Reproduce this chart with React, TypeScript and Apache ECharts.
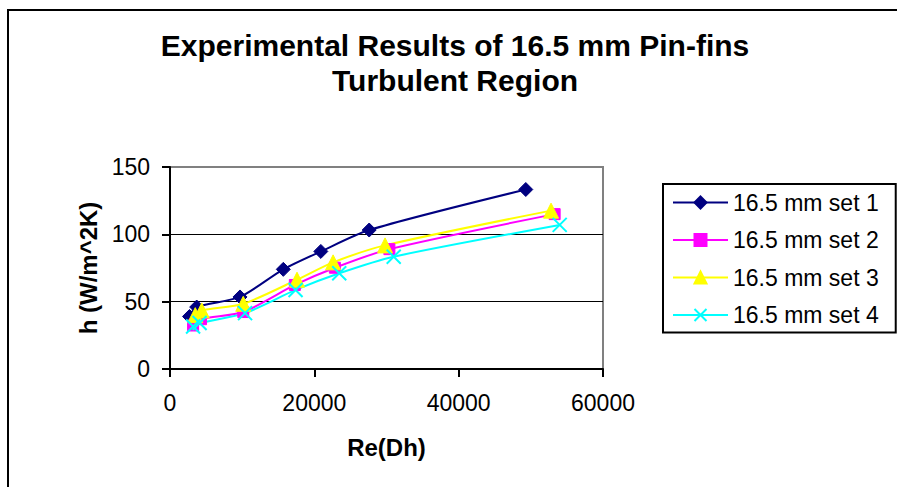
import React, { useEffect, useRef } from "react";
import * as echarts from "echarts";

const seriesNames = ["16.5 mm set 1", "16.5 mm set 2", "16.5 mm set 3", "16.5 mm set 4"];

const set1Re = [2700, 3700, 9700, 15700, 20900, 27600, 49300];
const set1H = [39, 46, 53.5, 74, 87.3, 103.2, 133.3];

const set2Re = [3200, 4300, 10150, 17300, 22850, 30400, 53300];
const set2H = [32.3, 37, 42.3, 62.4, 75.2, 89, 115];

const set3Re = [3500, 4400, 10150, 17600, 22600, 29800, 52800];
const set3H = [40, 43.5, 48.4, 66.3, 79.2, 91.8, 117.6];

const set4Re = [3200, 4100, 10400, 17400, 23450, 31000, 54000];
const set4H = [31.6, 34.1, 41.5, 58.7, 71.1, 83.4, 107];

const xTicks = { min: 0, max: 60000, interval: 20000 };
const yTicks = { min: 0, max: 150, interval: 50 };

const FONT = "'Liberation Sans', Arial, sans-serif";

const zip = (xs: number[], ys: number[]) => xs.map((x, i) => [x, ys[i]]);

export default function App() {
  const ref = useRef<HTMLDivElement>(null);
  useEffect(() => {
    if (!ref.current) return;
    const chart = echarts.init(ref.current, null, { renderer: "svg" });
    const lineSeries = (
      name: string,
      data: number[][],
      color: string,
      symbol: string,
      symbolSize: number,
      extra: any = {}
    ) => ({
      type: "line",
      name,
      data,
      smooth: 0.25,
      symbol,
      symbolSize,
      showAllSymbol: true,
      lineStyle: { color, width: 2 },
      itemStyle: { color, borderColor: color, borderWidth: 1, ...extra },
      emphasis: { disabled: true },
    });
    chart.setOption({
      animation: false,
      backgroundColor: "#ffffff",
      title: {
        text: "Experimental Results of 16.5 mm Pin-fins\nTurbulent Region",
        left: 455,
        top: 28,
        padding: 0,
        textAlign: "center",
        textStyle: {
          fontFamily: FONT,
          fontSize: 30,
          fontWeight: "bold",
          color: "#000",
          lineHeight: 35,
        },
      },
      graphic: [
        {
          type: "rect",
          shape: { x: 8, y: 10, width: 900, height: 490 },
          style: { fill: "none", stroke: "#000", lineWidth: 2 },
          silent: true,
        },
      ],
      legend: {
        orient: "vertical",
        left: 663,
        top: 184,
        padding: [6, 17, 5, 9],
        itemWidth: 55,
        itemHeight: 15,
        itemGap: 12.5,
        borderColor: "#000",
        borderWidth: 2,
        backgroundColor: "#fff",
        textStyle: { fontFamily: FONT, fontSize: 23, color: "#000", lineHeight: 25 },
        data: seriesNames,
      },
      grid: {
        left: 170,
        top: 167,
        right: 294,
        bottom: 118,
        show: true,
        borderColor: "#808080",
        borderWidth: 2,
        backgroundColor: "#fff",
      },
      xAxis: {
        type: "value",
        ...xTicks,
        name: "Re(Dh)",
        nameLocation: "middle",
        nameGap: 66,
        nameTextStyle: { fontFamily: FONT, fontSize: 24, fontWeight: "bold", color: "#000" },
        axisLine: { show: true, lineStyle: { color: "#000", width: 2 } },
        axisTick: { show: true, inside: false, length: 8, lineStyle: { color: "#000", width: 2 } },
        axisLabel: {
          fontFamily: FONT,
          fontSize: 23,
          color: "#000",
          margin: 22,
          formatter: (v: number) => String(v),
        },
        splitLine: { show: false },
      },
      yAxis: {
        type: "value",
        ...yTicks,
        name: "h (W/m^2K)",
        nameLocation: "middle",
        nameGap: 70,
        nameTextStyle: { fontFamily: FONT, fontSize: 24, fontWeight: "bold", color: "#000" },
        axisLine: { show: true, lineStyle: { color: "#000", width: 2 } },
        axisTick: { show: true, inside: false, length: 8, lineStyle: { color: "#000", width: 2 } },
        axisLabel: {
          fontFamily: FONT,
          fontSize: 23,
          color: "#000",
          margin: 20,
          formatter: (v: number) => String(v),
        },
        splitLine: {
          show: true,
          lineStyle: { color: ["#000", "#000", "#000", "#808080"], width: 1 },
        },
      },
      series: [
        lineSeries(seriesNames[0], zip(set1Re, set1H), "#000080", "diamond", 14),
        lineSeries(seriesNames[1], zip(set2Re, set2H), "#FF00FF", "rect", 11),
        lineSeries(seriesNames[2], zip(set3Re, set3H), "#FFFF00", "triangle", 15),
        lineSeries(
          seriesNames[3],
          zip(set4Re, set4H),
          "#00FFFF",
          "path://M0,0L10,10M10,0L0,10",
          14,
          { borderWidth: 2 }
        ),
      ],
    });
    return () => chart.dispose();
  }, []);
  return (
    <div
      ref={ref}
      style={{ position: "fixed", left: 0, top: 0, width: 897, height: 487 }}
    />
  );
}
